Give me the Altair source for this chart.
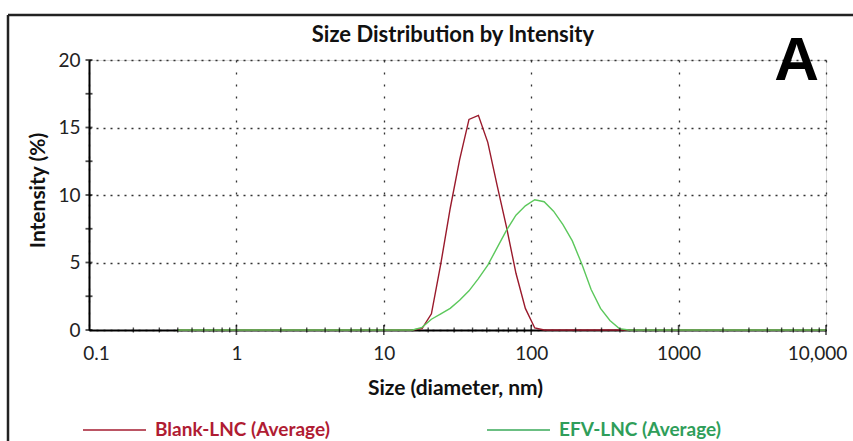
import altair as alt
import pandas as pd

# Size classes (nm) of the DLS intensity distribution
sizes_nm = [
    0.4, 0.4632, 0.5365, 0.6213, 0.7195, 0.8332, 0.9649, 1.117, 1.294, 1.499,
    1.736, 2.010, 2.328, 2.696, 3.122, 3.615, 4.187, 4.849, 5.615, 6.503,
    7.531, 8.721, 10.10, 11.70, 13.54, 15.69, 18.17, 21.04, 24.36, 28.21,
    32.67, 37.84, 43.82, 50.75, 58.77, 68.06, 78.82, 91.28, 105.7, 122.4,
    141.8, 164.2, 190.1, 220.2, 255.0, 295.3, 342.0, 396.1, 458.7, 531.2,
    615.1, 712.4, 825.0, 955.4, 1106, 1281, 1484, 1718, 1990, 2305,
    2669, 3091, 3580, 4145, 4801, 5560, 6439, 7456, 8635, 10000,
]

# Intensity (%) per size class
blank_lnc = [
    0, 0, 0, 0, 0, 0, 0, 0, 0, 0,
    0, 0, 0, 0, 0, 0, 0, 0, 0, 0,
    0, 0, 0, 0, 0, 0, 0.1, 1.2, 4.9, 9.0,
    12.6, 15.6, 15.9, 13.9, 10.7, 7.6, 4.2, 1.6, 0.15, 0,
    0, 0, 0, 0, 0, 0, 0, 0, 0, 0,
    0, 0, 0, 0, 0, 0, 0, 0, 0, 0,
    0, 0, 0, 0, 0, 0, 0, 0, 0, 0,
]
efv_lnc = [
    0, 0, 0, 0, 0, 0, 0, 0, 0, 0,
    0, 0, 0, 0, 0, 0, 0, 0, 0, 0,
    0, 0, 0, 0, 0, 0, 0.2, 0.8, 1.2, 1.6,
    2.2, 2.9, 3.8, 4.8, 6.1, 7.4, 8.5, 9.2, 9.65, 9.5,
    8.8, 7.8, 6.6, 4.9, 3.0, 1.6, 0.7, 0.1, 0, 0,
    0, 0, 0, 0, 0, 0, 0, 0, 0, 0,
    0, 0, 0, 0, 0, 0, 0, 0, 0, 0,
]

series_names = ["Blank-LNC (Average)", "EFV-LNC (Average)"]
line_colors = ["#9a1a2c", "#5cc85c"]
legend_line_colors = ["#a51d30", "#3aaa5a"]
legend_text_colors = ["#b01c33", "#2f9e5a"]

x_major = [0.1, 1, 10, 100, 1000, 10000]
x_minor = [
    0.2, 0.3, 0.4, 0.5, 0.6, 0.7, 0.8, 0.9,
    2, 3, 4, 5, 6, 7, 8, 9,
    20, 30, 40, 50, 60, 70, 80, 90,
    200, 300, 400, 500, 600, 700, 800, 900,
    2000, 3000, 4000, 5000, 6000, 7000, 8000, 9000,
]
y_major = [0, 5, 10, 15, 20]
y_all_ticks = [0, 2.5, 5, 7.5, 10, 12.5, 15, 17.5, 20]

rows = []
for s, b, e in zip(sizes_nm, blank_lnc, efv_lnc):
    rows.append({"size": s, "intensity": b, "series": series_names[0]})
    rows.append({"size": s, "intensity": e, "series": series_names[1]})
df = pd.DataFrame(rows)

W, H = 737, 270
FONT = "Lato"

x_scale = alt.Scale(type="log", domain=[0.1, 10000], nice=False)
y_scale = alt.Scale(domain=[0, 20], nice=False)

x_axis = alt.Axis(
    values=x_major,
    labelExpr="datum.value >= 10000 ? '10,000' : '' + datum.value",
    grid=True, gridDash=[2, 10], gridColor="#333", gridWidth=1.3,
    domainColor="black", domainWidth=2, ticks=False,
    labelFont=FONT, labelFontSize=19, labelColor="#222", labelPadding=14,
    labelFlush=False,
    labelOffset={
        "condition": [
            {"test": "datum.value <= 0.1", "value": 7},
            {"test": "datum.value >= 10000", "value": -9},
        ],
        "value": 0,
    },
    title="Size (diameter, nm)", titleFont=FONT, titleFontSize=21,
    titleFontWeight="bold", titleColor="#111",
    titleBaseline="alphabetic", titleY=64, titleX=366,
)
y_axis = alt.Axis(
    values=y_major,
    grid=True, gridDash=[2, 5], gridColor="#333", gridWidth=1.3,
    domainColor="black", domainWidth=2, ticks=False,
    labelFont=FONT, labelFontSize=19, labelColor="#222", labelPadding=9,
    title="Intensity (%)", titleFont=FONT, titleFontSize=21,
    titleFontWeight="bold", titleColor="#111",
    titleAngle=270, titleBaseline="alphabetic", titleX=-45, titleY=H / 2 - 5,
)

lines = alt.Chart(df).mark_line(strokeWidth=1.4).encode(
    x=alt.X("size:Q", scale=x_scale, axis=x_axis),
    y=alt.Y("intensity:Q", scale=y_scale, axis=y_axis),
    color=alt.Color(
        "series:N",
        scale=alt.Scale(domain=series_names, range=line_colors),
        legend=None,
    ),
)

# Tick marks crossing the axes (share the same axes as the curves)
y_ticks = alt.Chart(pd.DataFrame({"v": y_all_ticks})).mark_tick(
    size=7, thickness=1.8, color="black"
).encode(y=alt.Y("v:Q", scale=y_scale, axis=y_axis), x=alt.value(0))

x_ticks_major = alt.Chart(pd.DataFrame({"v": x_major[1:]})).mark_tick(
    size=10, thickness=1.6, color="black"
).encode(x=alt.X("v:Q", scale=x_scale, axis=x_axis), y=alt.value(H))

x_ticks_minor = alt.Chart(pd.DataFrame({"v": x_minor})).mark_tick(
    size=5, thickness=1.4, color="black"
).encode(x=alt.X("v:Q", scale=x_scale, axis=x_axis), y=alt.value(H))

one = alt.Data(values=[{}])

title = alt.Chart(one).mark_text(
    text="Size Distribution by Intensity", font=FONT, fontSize=22,
    fontWeight="bold", color="#111", align="center", baseline="alphabetic",
).encode(x=alt.value(364), y=alt.value(-18))

panel_letter = alt.Chart(one).mark_text(
    text="A", font="Liberation Sans", fontSize=62, fontWeight="bold",
    color="black", align="right", baseline="alphabetic",
).encode(x=alt.value(730), y=alt.value(20))

# Figure frame (top and left edges)
frame_top = alt.Chart(one).mark_rule(color="#222", strokeWidth=2.5).encode(
    x=alt.value(-81), x2=alt.value(780), y=alt.value(-45)
)
frame_left = alt.Chart(one).mark_rule(color="#222", strokeWidth=2.5).encode(
    x=alt.value(-81), y=alt.value(-45), y2=alt.value(400)
)

# Legend below the plot
leg_y = 370
legend_layers = []
for name, lc, tc, x0 in zip(series_names, legend_line_colors, legend_text_colors, [-6, 398]):
    legend_layers.append(
        alt.Chart(one).mark_rule(color=lc, strokeWidth=1.6).encode(
            x=alt.value(x0), x2=alt.value(x0 + 63), y=alt.value(leg_y)
        )
    )
    legend_layers.append(
        alt.Chart(one).mark_text(
            text=name, font=FONT, fontSize=19, fontWeight="bold", color=tc,
            align="left", baseline="middle",
        ).encode(x=alt.value(x0 + 72), y=alt.value(leg_y))
    )

chart = alt.layer(
    lines, y_ticks, x_ticks_major, x_ticks_minor, title, panel_letter,
    frame_top, frame_left, *legend_layers,
).properties(
    width=W, height=H,
    autosize=alt.AutoSizeParams(type="none"),
    padding={"left": 89, "top": 60, "right": 27, "bottom": 111},
).configure_view(stroke=None).configure(background="white")

chart.save("out.html", embed_options={"renderer": "svg", "actions": False})
